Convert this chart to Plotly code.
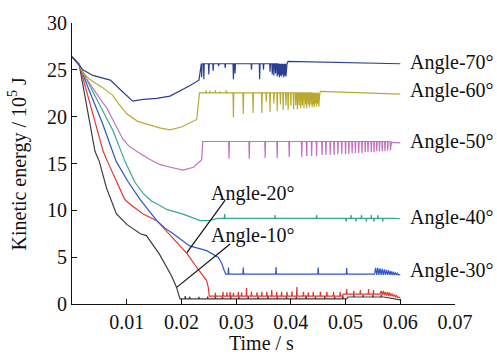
import plotly.graph_objects as go

# ---------------- data (time in s, kinetic energy in 1e5 J) ----------------
# Angle-70
a70_t = [0, 0.0013, 0.002, 0.0038, 0.0056, 0.007, 0.009, 0.0111, 0.013, 0.0155, 0.0179, 0.020, 0.0215, 0.0232]
a70_v = [26.4, 25.5, 25.0, 24.4, 24.1, 23.9, 22.8, 21.65, 21.85, 21.95, 22.2, 22.8, 23.3, 23.9]
a70_base = 25.65
a70_sp_t = [0.0237, 0.0241, 0.0250, 0.0258, 0.0268, 0.0280, 0.0295, 0.0298, 0.0328, 0.0343, 0.0350,
            0.0362, 0.0366, 0.0369, 0.0372, 0.0375, 0.0377, 0.0379, 0.0381, 0.0383, 0.0385, 0.0387, 0.0389, 0.0391]
a70_sp_v = [24.2, 24.0, 24.5, 24.9, 25.4, 25.2, 24.0, 24.6, 25.0, 24.0, 25.0,
            24.8, 24.5, 24.4, 24.6, 24.3, 24.5, 24.2, 24.4, 24.3, 24.5, 24.2, 24.4, 24.3]
a70_tail_t = [0.0395, 0.060]
a70_tail_v = [25.9, 25.65]

# Angle-60
a60_t = [0, 0.0013, 0.002, 0.0032, 0.0056, 0.0074, 0.0085, 0.010, 0.012, 0.0142, 0.016, 0.0179, 0.020, 0.0228]
a60_v = [26.4, 25.5, 24.7, 24.0, 23.1, 22.3, 21.4, 20.3, 19.5, 19.1, 18.8, 18.6, 18.9, 19.7]
a60_base = 22.55
a60_sp_t = [0.0245, 0.0252, 0.0262, 0.0270, 0.0282,
            0.0295, 0.0313, 0.0331, 0.0347, 0.0355, 0.0362, 0.0369, 0.0375, 0.0381, 0.0386, 0.0391, 0.0395,
            0.0400, 0.0405, 0.0409, 0.0412, 0.0415, 0.0418, 0.0421, 0.0424, 0.0427, 0.0429, 0.0432, 0.0434,
            0.0437, 0.0439, 0.0441, 0.0443, 0.0445, 0.0447, 0.0449, 0.0451]
a60_sp_v = [22.8, 22.75, 22.8, 22.7, 22.8,
            19.9, 20.3, 20.4, 20.4, 21.6, 20.5, 21.4, 20.6, 21.3, 20.7, 21.2, 20.7,
            21.2, 20.8, 21.2, 20.8, 21.2, 20.9, 21.2, 20.9, 21.3, 20.9, 21.3, 21.0,
            21.3, 21.0, 21.3, 21.0, 21.4, 21.1, 21.4, 21.1]
a60_tail_t = [0.0454, 0.060]
a60_tail_v = [22.7, 22.4]

# Angle-50
a50_t = [0, 0.0013, 0.002, 0.004, 0.0056, 0.0063, 0.008, 0.0093, 0.0105, 0.0115, 0.0124, 0.014, 0.016,
         0.018, 0.0203, 0.0222, 0.0237]
a50_v = [26.4, 25.6, 24.6, 22.8, 21.5, 21.0, 19.0, 17.6, 16.8, 16.4, 16.1, 15.5, 14.9,
         14.6, 14.3, 14.6, 15.4]
a50_base = 17.35
a50_sp_t = [0.0287, 0.0324, 0.0353, 0.0375, 0.0397, 0.0420, 0.0429, 0.0438, 0.0447, 0.0457, 0.0464,
            0.0472, 0.0479, 0.0486, 0.0493, 0.0500, 0.0506, 0.0512, 0.0518, 0.0524, 0.0530, 0.0536,
            0.0541, 0.0547, 0.0552, 0.0557, 0.0562, 0.0567, 0.0572, 0.0577, 0.0582]
a50_sp_v = [15.5, 15.5, 15.6, 15.6, 15.7, 15.7, 15.8, 15.8, 15.8, 15.9, 15.9,
            15.9, 15.9, 16.0, 16.0, 16.0, 16.0, 16.1, 16.1, 16.1, 16.1, 16.2,
            16.2, 16.2, 16.2, 16.3, 16.3, 16.3, 16.3, 16.4, 16.4]
a50_tail_t = [0.0585, 0.060]
a50_tail_v = [17.25, 17.2]

# Angle-40
a40_t = [0, 0.0013, 0.003, 0.005, 0.0075, 0.0097, 0.0115, 0.013, 0.0145, 0.0155, 0.0173, 0.0203, 0.0234,
         0.025]
a40_v = [26.4, 25.6, 23.6, 21.3, 18.5, 15.2, 13.0, 11.8, 11.0, 10.7, 10.1, 9.6, 8.9, 8.9]
a40_base = 9.15
a40_sp_t = [0.0279, 0.0371, 0.0447, 0.0501, 0.0510, 0.0519, 0.0529, 0.0538, 0.0547, 0.0552, 0.0559, 0.0568]
a40_sp_v = [9.6, 9.5, 9.5, 8.8, 9.5, 8.8, 9.5, 8.8, 9.5, 8.8, 9.5, 8.8]
a40_tail_t = [0.060]
a40_tail_v = [9.1]

# Angle-30
a30_t = [0, 0.0013, 0.003, 0.0055, 0.0074, 0.0081, 0.0102, 0.0124, 0.0140, 0.0155, 0.0170, 0.0185, 0.0215,
         0.0246, 0.0267, 0.0274, 0.0278]
a30_v = [26.4, 25.6, 23.0, 19.4, 16.3, 15.2, 13.1, 11.2, 10.0, 8.9, 8.1, 7.5, 6.2,
         5.7, 5.0, 4.3, 3.6]
a30_base = 3.2
a30_sp_t = [0.0286, 0.0313, 0.0373, 0.0450, 0.0502]
a30_sp_v = [3.9, 3.9, 3.95, 3.9, 3.85]
a30_end_t = [0.0555, 0.0557, 0.0559, 0.0561, 0.0563, 0.0565, 0.0567, 0.0569, 0.0571, 0.0573, 0.0575,
             0.0577, 0.0579, 0.0581, 0.0583, 0.0585, 0.0587, 0.0589, 0.0591, 0.0593, 0.0595, 0.0597, 0.0600]
a30_end_v = [3.85, 3.1, 3.85, 3.1, 3.8, 3.1, 3.75, 3.1, 3.7, 3.1, 3.65,
             3.1, 3.6, 3.1, 3.5, 3.1, 3.45, 3.1, 3.35, 3.1, 3.3, 3.1, 3.15]

# Angle-20
a20_t = [0, 0.0013, 0.003, 0.0057, 0.0065, 0.0081, 0.0096, 0.0105, 0.0118, 0.013, 0.0155, 0.0185, 0.021,
         0.0228, 0.0246, 0.0249, 0.0251]
a20_v = [26.4, 25.6, 22.0, 16.3, 15.2, 13.1, 11.2, 10.7, 10.1, 9.6, 8.9, 7.0, 5.4,
         3.9, 2.5, 1.8, 0.8]
a20_base = 0.85
a20_sp_t = [0.0262, 0.0276, 0.0283, 0.0289, 0.0295, 0.0304, 0.0310, 0.0319, 0.0328, 0.0338, 0.0347,
            0.0356, 0.0365, 0.0374, 0.0383, 0.0393, 0.0402, 0.0411, 0.0423, 0.0432, 0.0441, 0.0454,
            0.0466, 0.0478, 0.0490]
a20_sp_v = [1.2, 1.3, 1.25, 1.3, 1.2, 1.3, 1.25, 1.7, 1.3, 1.25, 1.3,
            1.3, 1.5, 1.3, 1.3, 1.3, 1.35, 1.8, 1.3, 1.25, 1.3, 1.3,
            1.3, 1.3, 1.3]
a20_base2 = 1.05
a20_sp2_t = [0.0502, 0.0515, 0.0527, 0.0542, 0.0551]
a20_sp2_v = [1.6, 1.4, 1.5, 1.6, 1.5]
a20_end_t = [0.0565, 0.0567, 0.0569, 0.0571, 0.0573, 0.0575, 0.0577, 0.0579, 0.0581, 0.0583, 0.0585,
             0.0587, 0.0589, 0.0591, 0.0593, 0.0595, 0.0597, 0.0600]
a20_end_v = [1.4, 0.95, 1.4, 0.95, 1.3, 0.9, 1.25, 0.85, 1.2, 0.85, 1.1,
             0.8, 1.0, 0.75, 0.9, 0.7, 0.75, 0.65]

# Angle-10
a10_t = [0, 0.0013, 0.0042, 0.005, 0.0063, 0.0081, 0.0100, 0.0118, 0.0125, 0.0136, 0.016, 0.0182, 0.0191,
         0.0197]
a10_v = [26.4, 25.6, 16.3, 15.2, 12.4, 9.65, 8.5, 7.8, 7.5, 7.3, 5.3, 3.0, 1.8,
         0.6]
a10_base = 0.55
a10_sp_t = [0.0207, 0.0215, 0.0232, 0.0248, 0.0262, 0.0275, 0.0290, 0.0305, 0.0322, 0.0340, 0.0358, 0.0375,
            0.0392, 0.0410, 0.0428, 0.0445, 0.0462, 0.0480, 0.0495]
a10_sp_v = [0.85, 0.8, 0.75, 0.8, 0.85, 0.8, 0.9, 0.8, 0.85, 0.8, 0.9, 0.8,
            0.85, 0.8, 0.9, 0.8, 0.85, 0.8, 0.9]
a10_base2 = 0.75
a10_sp2_t = [0.0515, 0.0532, 0.0550, 0.0565]
a10_sp2_v = [1.0, 0.95, 1.0, 0.95]
a10_tail_t = [0.0600]
a10_tail_v = [0.45]

# labels
right_labels = ["Angle-70°", "Angle-60°", "Angle-50°", "Angle-40°", "Angle-30°"]
right_label_y = [25.8, 22.8, 17.4, 9.2, 3.6]
inner_labels = ["Angle-20°", "Angle-10°"]
inner_label_y = [11.8, 7.3]
leader20 = [(0.0210, 5.49), (0.0280, 11.1)]
leader10 = [(0.0192, 1.80), (0.0289, 6.40)]

x_ticks = [0.01, 0.02, 0.03, 0.04, 0.05, 0.06, 0.07]
y_ticks = [0, 5, 10, 15, 20, 25, 30]

colors = {
    "70": "#2C3E94", "60": "#B8AA2E", "50": "#C56FBF", "40": "#3BA596",
    "30": "#2E55C9", "20": "#E8352E", "10": "#3C3C3C",
}

W = 0.00007


def spikes(base, t0, t1, sp_t, sp_v):
    ts, vs = [t0], [base]
    for t, v in zip(sp_t, sp_v):
        ts += [t - W, t, t + W]
        vs += [base, v, base]
    ts.append(t1)
    vs.append(base)
    return ts, vs


def join(*parts):
    ts, vs = [], []
    for p in parts:
        ts += list(p[0])
        vs += list(p[1])
    return ts, vs


series = {
    "10": join((a10_t, a10_v), spikes(a10_base, 0.0198, 0.0502, a10_sp_t, a10_sp_v),
               spikes(a10_base2, 0.0504, 0.0570, a10_sp2_t, a10_sp2_v), (a10_tail_t, a10_tail_v)),
    "20": join((a20_t, a20_v), spikes(a20_base, 0.0252, 0.0494, a20_sp_t, a20_sp_v),
               spikes(a20_base2, 0.0496, 0.0563, a20_sp2_t, a20_sp2_v), (a20_end_t, a20_end_v)),
    "30": join((a30_t, a30_v), spikes(a30_base, 0.0281, 0.0553, a30_sp_t, a30_sp_v), (a30_end_t, a30_end_v)),
    "40": join((a40_t, a40_v), spikes(a40_base, 0.0266, 0.0590, a40_sp_t, a40_sp_v), (a40_tail_t, a40_tail_v)),
    "50": join((a50_t, a50_v), spikes(a50_base, 0.0239, 0.0584, a50_sp_t, a50_sp_v), (a50_tail_t, a50_tail_v)),
    "60": join((a60_t, a60_v), spikes(a60_base, 0.0233, 0.0453, a60_sp_t, a60_sp_v), (a60_tail_t, a60_tail_v)),
    "70": join((a70_t, a70_v), spikes(a70_base, 0.0235, 0.0393, a70_sp_t, a70_sp_v), (a70_tail_t, a70_tail_v)),
}

FONT = "Times New Roman, Liberation Serif, DejaVu Serif, serif"

fig = go.Figure()
for key in ["10", "20", "30", "40", "50", "60", "70"]:
    ts, vs = series[key]
    fig.add_trace(go.Scatter(x=ts, y=vs, mode="lines", line=dict(color=colors[key], width=1.2),
                             showlegend=False, hoverinfo="skip"))

annotations = []
for txt, yv in zip(right_labels, right_label_y):
    annotations.append(dict(x=0.0614, y=yv, xref="x", yref="y", text=txt, showarrow=False,
                            xanchor="left", yanchor="middle", font=dict(family=FONT, size=20, color="#111")))
for txt, yv in zip(inner_labels, inner_label_y):
    annotations.append(dict(x=0.0250, y=yv, xref="x", yref="y", text=txt, showarrow=False,
                            xanchor="left", yanchor="middle", font=dict(family=FONT, size=20, color="#111")))
annotations.append(dict(x=0.4935, y=-0.14, xref="paper", yref="paper", text="Time / s", showarrow=False,
                        xanchor="center", yanchor="middle", font=dict(family=FONT, size=20, color="#111")))
annotations.append(dict(x=-0.141, y=0.5, xref="paper", yref="paper",
                        text="Kinetic energy / 10<sup>5</sup> J", textangle=-90, showarrow=False,
                        xanchor="center", yanchor="middle", font=dict(family=FONT, size=20, color="#111")))

shapes = []
for (p0, p1) in [leader20, leader10]:
    shapes.append(dict(type="line", xref="x", yref="y", x0=p0[0], y0=p0[1], x1=p1[0], y1=p1[1],
                       line=dict(color="#111", width=1.2)))

fig.update_layout(
    width=497, height=364,
    margin=dict(l=72, r=42, t=20, b=60),
    paper_bgcolor="white", plot_bgcolor="white",
    font=dict(family=FONT, size=20, color="#111"),
    annotations=annotations, shapes=shapes,
    xaxis=dict(range=[0, 0.07], tickvals=x_ticks, ticktext=[f"{v:.2f}" for v in x_ticks],
               ticks="inside", ticklen=5, tickwidth=1.2, tickcolor="#111",
               showline=True, linecolor="#111", linewidth=1.2, showgrid=False, zeroline=False,
               tickfont=dict(family=FONT, size=20, color="#111")),
    yaxis=dict(range=[0, 30], tickvals=y_ticks, ticks="inside", ticklen=5, tickwidth=1.2, tickcolor="#111",
               showline=True, linecolor="#111", linewidth=1.2, showgrid=False, zeroline=False,
               tickfont=dict(family=FONT, size=20, color="#111")),
)

fig.write_html("out.html")
